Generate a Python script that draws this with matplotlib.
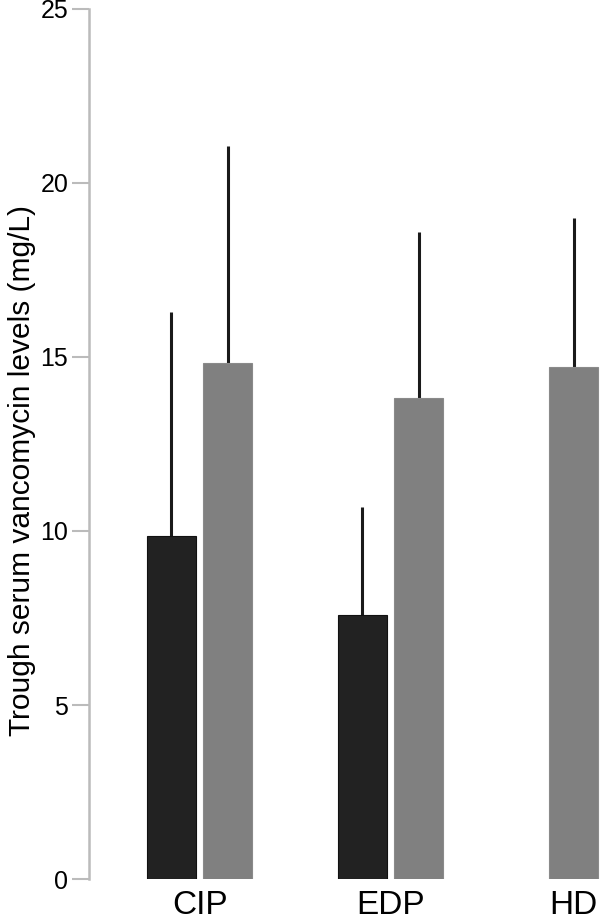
import numpy as np
import matplotlib
matplotlib.use("Agg")
import matplotlib.pyplot as plt

plt.rcParams['font.family'] = ['Liberation Sans', 'DejaVu Sans']

# data
groups = ['CIP', 'EDP', 'HD']
group_pos = [0, 1, 1.96]
dark_means = [9.85, 7.6, np.nan]
dark_sd = [6.45, 3.09, np.nan]
gray_means = [14.83, 13.82, 14.71]
gray_sd = [6.22, 4.77, 4.29]

bar_w = 0.257
off = 0.148

fig = plt.figure(figsize=(6.0, 9.21), dpi=100)
ax = fig.add_axes([89 / 600, 42 / 921, 1 - 89 / 600, (912 - 42) / 921])

for i, g in enumerate(groups):
    x = group_pos[i]
    has_dark = not np.isnan(dark_means[i])
    if has_dark:
        ax.bar(x - off, dark_means[i], width=bar_w, color='#222222',
               edgecolor='#111111', linewidth=0.8, zorder=2)
        ax.errorbar(x - off, dark_means[i], yerr=[[0], [dark_sd[i]]],
                    fmt='none', ecolor='#1a1a1a', elinewidth=2.2, capsize=0, zorder=1)
        xg = x + off
    else:
        xg = x
    ax.bar(xg, gray_means[i], width=bar_w, color='#808080',
           edgecolor='#8a8a8a', linewidth=0.8, zorder=2)
    ax.errorbar(xg, gray_means[i], yerr=[[0], [gray_sd[i]]],
                fmt='none', ecolor='#1a1a1a', elinewidth=2.2, capsize=0, zorder=1)

ax.set_xlim(-0.579, 2.097)
ax.set_ylim(0, 25)
ax.set_yticks([0, 5, 10, 15, 20, 25])
ax.set_xticks(group_pos)
ax.set_xticklabels(groups, fontsize=24)
ax.tick_params(axis='x', length=0, pad=8)
ax.tick_params(axis='y', length=12, width=1.5, color='#bbbbbb', labelsize=18, pad=3)

for s in ['top', 'right', 'bottom']:
    ax.spines[s].set_visible(False)
ax.spines['left'].set_color('#bbbbbb')
ax.spines['left'].set_linewidth(1.8)

ax.set_ylabel('Trough serum vancomycin levels (mg/L)', fontsize=21.5)
ax.yaxis.set_label_coords(-0.104, 0.469)

fig.savefig('out.png', dpi=100)
